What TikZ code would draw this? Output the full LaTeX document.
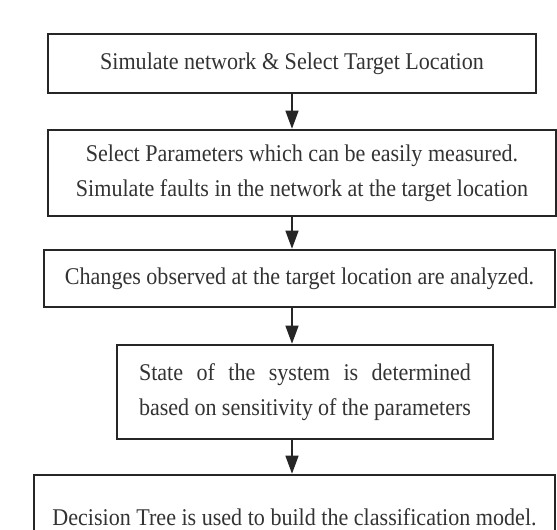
\documentclass[tikz,border=0pt]{standalone}
\usepackage{fontspec}
\setmainfont{Liberation Serif}[FakeStretch=0.92]
\usepackage{xcolor}
\definecolor{inkgray}{HTML}{262626}
\definecolor{textgray}{HTML}{333333}
\usetikzlibrary{arrows.meta}

\begin{document}
\begin{tikzpicture}[x=1pt, y=-1pt,
  stepbox/.style={draw=inkgray, line width=2.6pt, inner sep=0pt, align=center,
    text=textgray, font={\fontsize{24}{35}\selectfont}},
  flow/.style={draw=inkgray, line width=1.4pt, -{Triangle[length=18pt, width=13pt]}}]
  \useasboundingbox (0,0) rectangle (557,530);
  \clip (0,0) rectangle (557,530);

  % Step 1 - network and target
  \node[stepbox, minimum width=488pt, minimum height=59pt] (simulate) at (292,63.5)
    {Simulate network \& Select Target Location};

  % Step 2 - parameters and faults
  \node[stepbox, minimum width=508pt, minimum height=86pt] (params) at (302,173)
    {Select Parameters which can be easily measured.\\
     Simulate faults in the network at the target location};

  % Step 3 - observed changes
  \node[stepbox, minimum width=511pt, minimum height=57pt] (changes) at (299.5,278.5)
    {Changes observed at the target location are analyzed.};

  % Step 4 - system state (justified text)
  \node[stepbox, minimum width=376pt, minimum height=94pt, text width=332pt, align=justify] (state) at (305,392)
    {\parfillskip=0pt State of the system is determined\linebreak
     based on sensitivity of the parameters};

  % Step 5 - classifier, cut off at the bottom
  \node[stepbox, minimum width=521pt, minimum height=84pt] (decision) at (294.5,517)
    {Decision Tree is used to build the classification model.};

  % Arrows down the chain
  \draw[flow] (simulate.south) -- (simulate.south |- params.north);
  \draw[flow] (simulate.south |- params.south) -- (simulate.south |- changes.north);
  \draw[flow] (simulate.south |- changes.south) -- (simulate.south |- state.north);
  \draw[flow] (simulate.south |- state.south) -- (simulate.south |- decision.north);
\end{tikzpicture}
\end{document}
